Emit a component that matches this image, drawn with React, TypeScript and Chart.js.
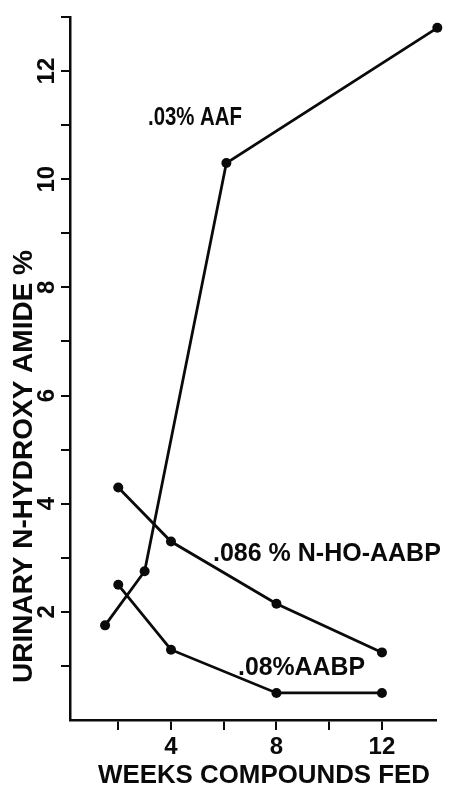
import React, { useEffect, useRef } from 'react';
import { Chart, registerables } from 'chart.js';

Chart.register(...registerables);

// ---- data ----
const aafWeeks = [1.5, 3, 6.1, 14.1];
const aafValues = [1.75, 2.75, 10.3, 12.8];

const nhoWeeks = [2, 4, 8, 12];
const nhoValues = [4.3, 3.3, 2.15, 1.25];

const aabpWeeks = [2, 4, 8, 12];
const aabpValues = [2.5, 1.3, 0.5, 0.5];

const xTickValues = [2, 4, 6, 8, 10, 12];
const xTickLabels = ['', '4', '', '8', '', '12'];
const yTickValues = [1, 2, 3, 4, 5, 6, 7, 8, 9, 10, 11, 12, 13];
const yTickLabels = ['', '2', '', '4', '', '6', '', '8', '', '10', '', '12', ''];

const seriesLabels = ['.03% AAF', '.086 % N-HO-AABP', '.08%AABP'];
const xTitle = 'WEEKS COMPOUNDS FED';
const yTitle = 'URINARY N-HYDROXY AMIDE %';

const FONT = '"Liberation Sans", Arial, sans-serif';
const INK = '#0a0a0a';

const toPoints = (xs: number[], ys: number[]) => xs.map((x, i) => ({ x, y: ys[i] }));

const textPlugin = {
  id: 'annotText',
  afterDraw(chart: any) {
    const ctx = chart.ctx as CanvasRenderingContext2D;
    ctx.save();
    ctx.fillStyle = INK;
    ctx.textBaseline = 'alphabetic';
    ctx.textAlign = 'left';
    // series labels
    ctx.font = `bold 25px ${FONT}`;
    ctx.fillText(seriesLabels[0], 148, 125, 94);
    ctx.fillText(seriesLabels[1], 213, 561, 235);
    ctx.fillText(seriesLabels[2], 238, 675, 127);
    // x title
    ctx.font = `bold 26px ${FONT}`;
    ctx.fillText(xTitle, 98, 783, 332);
    // y title
    ctx.font = `bold 28px ${FONT}`;
    ctx.translate(32, 683);
    ctx.rotate(-Math.PI / 2);
    ctx.fillText(yTitle, 0, 0, 433);
    ctx.restore();
  },
};

export default function App() {
  const ref = useRef<HTMLCanvasElement | null>(null);

  useEffect(() => {
    if (!ref.current) return;
    const lineStyle = {
      borderColor: INK,
      borderWidth: 2.8,
      pointRadius: 5,
      pointBackgroundColor: INK,
      pointBorderWidth: 0,
      pointHoverRadius: 5,
      fill: false,
      tension: 0,
      clip: false as any,
    };
    const chart = new Chart(ref.current, {
      type: 'line',
      data: {
        datasets: [
          { label: seriesLabels[0], data: toPoints(aafWeeks, aafValues), ...lineStyle },
          { label: seriesLabels[1], data: toPoints(nhoWeeks, nhoValues), ...lineStyle },
          { label: seriesLabels[2], data: toPoints(aabpWeeks, aabpValues), ...lineStyle },
        ],
      },
      options: {
        responsive: false,
        animation: false,
        layout: { padding: { top: 17, right: 13, left: 0, bottom: 0 } },
        plugins: {
          legend: { display: false },
          tooltip: { enabled: false },
          title: { display: false },
        },
        scales: {
          x: {
            type: 'linear',
            min: 0.17,
            max: 14.05,
            afterBuildTicks: (scale: any) => {
              scale.ticks = xTickValues.map((v) => ({ value: v }));
            },
            afterFit: (scale: any) => {
              scale.height = 69;
            },
            ticks: {
              autoSkip: false,
              maxRotation: 0,
              minRotation: 0,
              padding: 3,
              color: INK,
              font: { family: FONT, size: 24, weight: 'bold' },
              callback: (value: any) => {
                const i = xTickValues.indexOf(Number(value));
                return i >= 0 ? xTickLabels[i] : '';
              },
            },
            grid: {
              drawOnChartArea: false,
              drawTicks: true,
              tickLength: 10,
              color: INK,
              lineWidth: 2,
            },
            border: { display: true, color: INK, width: 2.5 },
          },
          y: {
            type: 'linear',
            min: 0,
            max: 13,
            afterBuildTicks: (scale: any) => {
              scale.ticks = yTickValues.map((v) => ({ value: v }));
            },
            afterFit: (scale: any) => {
              scale.width = 70;
            },
            ticks: {
              autoSkip: false,
              minRotation: 90,
              maxRotation: 90,
              crossAlign: 'center',
              padding: 0,
              color: INK,
              font: { family: FONT, size: 24, weight: 'bold' },
              callback: (value: any) => {
                const i = yTickValues.indexOf(Number(value));
                return i >= 0 ? yTickLabels[i] : '';
              },
            },
            grid: {
              drawOnChartArea: false,
              drawTicks: true,
              tickLength: 9,
              color: INK,
              lineWidth: 2,
            },
            border: { display: true, color: INK, width: 2.5 },
          },
        },
      } as any,
      plugins: [textPlugin],
    });
    return () => chart.destroy();
  }, []);

  return (
    <div style={{ position: 'absolute', left: 0, top: 0, width: 449, height: 789, background: '#fff' }}>
      <canvas ref={ref} width={449} height={789} style={{ display: 'block' }} />
    </div>
  );
}
